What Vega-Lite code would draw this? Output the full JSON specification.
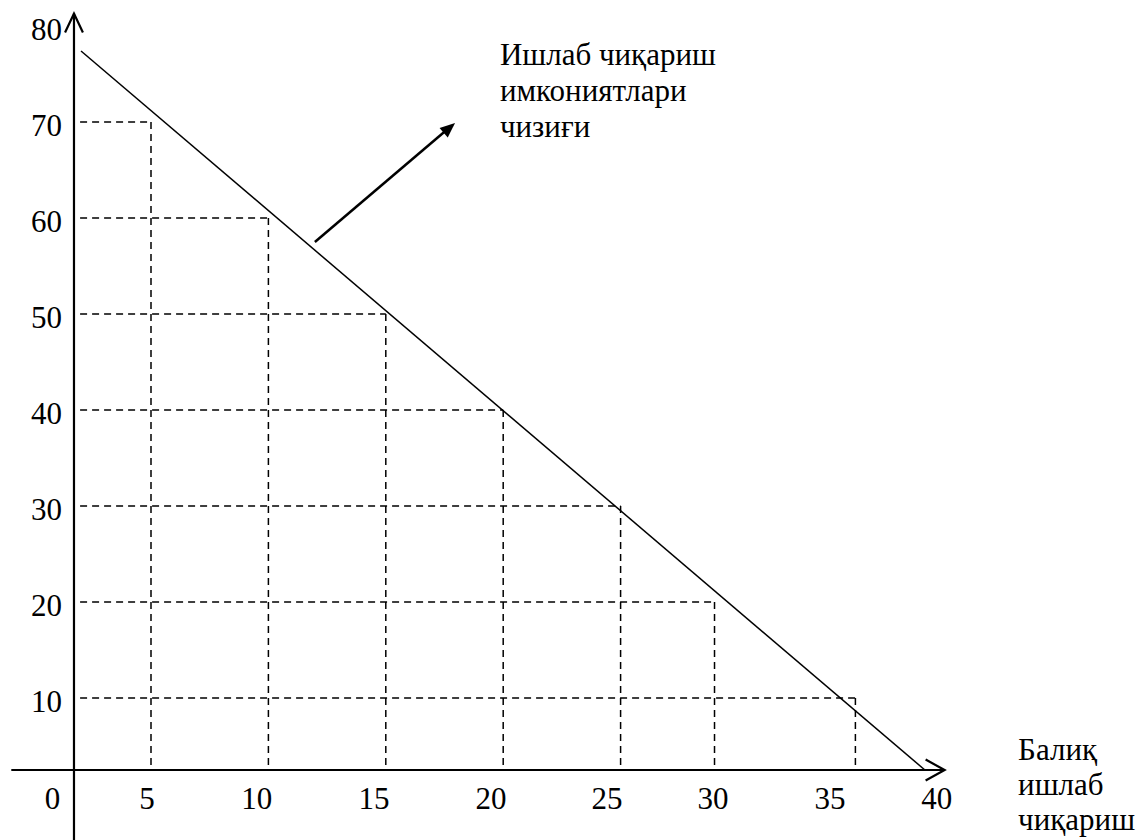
{
  "$schema": "https://vega.github.io/schema/vega-lite/v6.json",
  "width": 1138,
  "height": 840,
  "padding": 0,
  "autosize": {"type": "none"},
  "config": {"view": {"stroke": null}, "font": "Liberation Serif"},
  "datasets": {
    "pts": [
      {"x": 5, "y": 70, "x0": 1.98, "y0": 2.5}, {"x": 10, "y": 60, "x0": 1.98, "y0": 2.5},
      {"x": 15, "y": 50, "x0": 1.98, "y0": 2.5}, {"x": 20, "y": 40, "x0": 1.98, "y0": 2.5},
      {"x": 25, "y": 30, "x0": 1.98, "y0": 2.5}, {"x": 29, "y": 20, "x0": 1.98, "y0": 2.5},
      {"x": 35, "y": 10, "x0": 1.98, "y0": 2.5}
    ],
    "axes": [
      {"x": 1.72, "y": -4.8, "x2": 1.72, "y2": 81.3},
      {"x": -0.95, "y": 2.5, "x2": 38.8, "y2": 2.5}
    ],
    "ppf": [{"x": 2.02, "y": 77.4}, {"x": 37.96, "y": 2.5}],
    "xlabels": [
      {"t": "0", "x": 0.8, "y": -0.6}, {"t": "5", "x": 4.83, "y": -0.6}, {"t": "10", "x": 9.5, "y": -0.6},
      {"t": "15", "x": 14.5, "y": -0.6}, {"t": "20", "x": 19.48, "y": -0.6}, {"t": "25", "x": 24.42, "y": -0.6},
      {"t": "30", "x": 28.94, "y": -0.6}, {"t": "35", "x": 33.92, "y": -0.6}, {"t": "40", "x": 38.47, "y": -0.6}
    ],
    "ylabels": [
      {"t": "10", "y": 10, "x": 1.21}, {"t": "20", "y": 20, "x": 1.21}, {"t": "30", "y": 30, "x": 1.21},
      {"t": "40", "y": 40, "x": 1.21}, {"t": "50", "y": 50, "x": 1.21}, {"t": "60", "y": 60, "x": 1.21},
      {"t": "70", "y": 70, "x": 1.21}, {"t": "80", "y": 80, "x": 1.21}
    ]
  },
  "layer": [
    {
      "data": {"name": "pts"},
      "mark": {"type": "rule", "color": "black", "strokeWidth": 1.5, "strokeDash": [7, 5]},
      "encoding": {
        "x": {"field": "x0", "type": "quantitative", "scale": {"domain": [-1.431, 47.036], "nice": false, "zero": false}, "axis": null},
        "x2": {"field": "x"},
        "y": {"field": "y", "type": "quantitative", "scale": {"domain": [-4.792, 82.708], "nice": false, "zero": false}, "axis": null}
      }
    },
    {
      "data": {"name": "pts"},
      "mark": {"type": "rule", "color": "black", "strokeWidth": 1.5, "strokeDash": [7, 5]},
      "encoding": {
        "x": {"field": "x", "type": "quantitative", "scale": {"domain": [-1.431, 47.036], "nice": false, "zero": false}, "axis": null},
        "y": {"field": "y", "type": "quantitative", "scale": {"domain": [-4.792, 82.708], "nice": false, "zero": false}, "axis": null},
        "y2": {"field": "y0"}
      }
    },
    {
      "data": {"name": "axes"},
      "mark": {"type": "rule", "color": "black", "strokeWidth": 2.2},
      "encoding": {
        "x": {"field": "x", "type": "quantitative", "scale": {"domain": [-1.431, 47.036], "nice": false, "zero": false}, "axis": null},
        "x2": {"field": "x2"},
        "y": {"field": "y", "type": "quantitative", "scale": {"domain": [-4.792, 82.708], "nice": false, "zero": false}, "axis": null},
        "y2": {"field": "y2"}
      }
    },
    {
      "data": {"values": [{"x": 1.72, "y": 81.3}]},
      "mark": {"type": "point", "shape": "M-0.47,1L0,0L0.47,1", "size": 1444, "filled": false, "stroke": "black", "strokeWidth": 2.2, "opacity": 1, "angle": 0},
      "encoding": {
        "x": {"field": "x", "type": "quantitative", "scale": {"domain": [-1.431, 47.036], "nice": false, "zero": false}, "axis": null},
        "y": {"field": "y", "type": "quantitative", "scale": {"domain": [-4.792, 82.708], "nice": false, "zero": false}, "axis": null}
      }
    },
    {
      "data": {"values": [{"x": 38.8, "y": 2.5}]},
      "mark": {"type": "point", "shape": "M-0.55,1L0,0L0.55,1", "size": 1444, "filled": false, "stroke": "black", "strokeWidth": 2.2, "opacity": 1, "angle": 90},
      "encoding": {
        "x": {"field": "x", "type": "quantitative", "scale": {"domain": [-1.431, 47.036], "nice": false, "zero": false}, "axis": null},
        "y": {"field": "y", "type": "quantitative", "scale": {"domain": [-4.792, 82.708], "nice": false, "zero": false}, "axis": null}
      }
    },
    {
      "data": {"name": "ppf"},
      "mark": {"type": "line", "color": "black", "strokeWidth": 1.5},
      "encoding": {
        "x": {"field": "x", "type": "quantitative", "scale": {"domain": [-1.431, 47.036], "nice": false, "zero": false}, "axis": null},
        "y": {"field": "y", "type": "quantitative", "scale": {"domain": [-4.792, 82.708], "nice": false, "zero": false}, "axis": null}
      }
    },
    {
      "data": {"values": [{"x": 11.98, "y": 57.5, "x2": 17.6, "y2": 69.2}]},
      "mark": {"type": "rule", "color": "black", "strokeWidth": 2.5},
      "encoding": {
        "x": {"field": "x", "type": "quantitative", "scale": {"domain": [-1.431, 47.036], "nice": false, "zero": false}, "axis": null},
        "x2": {"field": "x2"},
        "y": {"field": "y", "type": "quantitative", "scale": {"domain": [-4.792, 82.708], "nice": false, "zero": false}, "axis": null},
        "y2": {"field": "y2"}
      }
    },
    {
      "data": {"values": [{"x": 17.95, "y": 69.9}]},
      "mark": {"type": "point", "shape": "M0,0L0.42,1L-0.42,1Z", "size": 900, "filled": true, "color": "black", "opacity": 1, "angle": 49.6},
      "encoding": {
        "x": {"field": "x", "type": "quantitative", "scale": {"domain": [-1.431, 47.036], "nice": false, "zero": false}, "axis": null},
        "y": {"field": "y", "type": "quantitative", "scale": {"domain": [-4.792, 82.708], "nice": false, "zero": false}, "axis": null}
      }
    },
    {
      "data": {"name": "xlabels"},
      "mark": {"type": "text", "fontSize": 31, "color": "black", "align": "center", "baseline": "middle"},
      "encoding": {
        "x": {"field": "x", "type": "quantitative", "scale": {"domain": [-1.431, 47.036], "nice": false, "zero": false}, "axis": null},
        "y": {"field": "y", "type": "quantitative", "scale": {"domain": [-4.792, 82.708], "nice": false, "zero": false}, "axis": null},
        "text": {"field": "t"}
      }
    },
    {
      "data": {"name": "ylabels"},
      "mark": {"type": "text", "fontSize": 31, "color": "black", "align": "right", "baseline": "middle", "dy": 5},
      "encoding": {
        "x": {"field": "x", "type": "quantitative", "scale": {"domain": [-1.431, 47.036], "nice": false, "zero": false}, "axis": null},
        "y": {"field": "y", "type": "quantitative", "scale": {"domain": [-4.792, 82.708], "nice": false, "zero": false}, "axis": null},
        "text": {"field": "t"}
      }
    },
    {
      "data": {"values": [{"t": "Ишлаб чиқариш\nимкониятлари\nчизиғи", "x": 19.86, "y": 75.94}]},
      "mark": {"type": "text", "fontSize": 31, "color": "black", "align": "left", "baseline": "alphabetic", "lineBreak": "\n", "lineHeight": 36},
      "encoding": {
        "x": {"field": "x", "type": "quantitative", "scale": {"domain": [-1.431, 47.036], "nice": false, "zero": false}, "axis": null},
        "y": {"field": "y", "type": "quantitative", "scale": {"domain": [-4.792, 82.708], "nice": false, "zero": false}, "axis": null},
        "text": {"field": "t"}
      }
    },
    {
      "data": {"values": [{"t": "Балиқ\nишлаб\nчиқариш", "x": 41.93, "y": 3.54}]},
      "mark": {"type": "text", "fontSize": 31, "color": "black", "align": "left", "baseline": "alphabetic", "lineBreak": "\n", "lineHeight": 35},
      "encoding": {
        "x": {"field": "x", "type": "quantitative", "scale": {"domain": [-1.431, 47.036], "nice": false, "zero": false}, "axis": null},
        "y": {"field": "y", "type": "quantitative", "scale": {"domain": [-4.792, 82.708], "nice": false, "zero": false}, "axis": null},
        "text": {"field": "t"}
      }
    }
  ]
}
